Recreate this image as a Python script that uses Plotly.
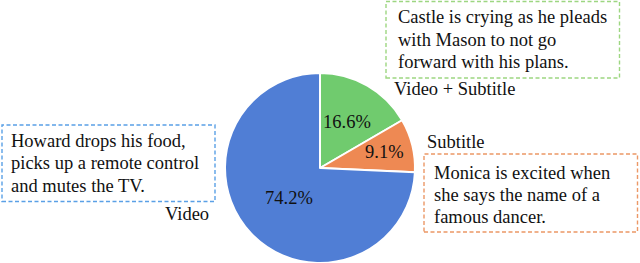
import math
import plotly.graph_objects as go

W, H = 640, 263

# Data
categories = ["Video + Subtitle", "Subtitle", "Video"]
values = [16.6, 9.1, 74.2]
slice_colors = ["#70CB6E", "#EE8953", "#507ED5"]

blue_lines = ["Howard drops his food,", "picks up a remote control", "and mutes the TV."]
green_lines = ["Castle is crying as he pleads", "with Mason to not go", "forward with his plans."]
orange_lines = ["Monica is excited when", "she says the name of a", "famous dancer."]

FONT = "Liberation Serif"
FS = 18.5
TXT = "#111111"

# pie geometry (pixels)
PIE_X0, PIE_X1, PIE_Y0, PIE_Y1 = 225, 415, 73, 263
CX, CY = (PIE_X0 + PIE_X1) / 2, (PIE_Y0 + PIE_Y1) / 2
R = (PIE_X1 - PIE_X0) / 2
LABEL_RADIUS = [0.56, 0.70, 0.45]  # fraction of radius for the percentage labels


def px(x):
    return x / W


def py(y):
    return 1 - y / H


fig = go.Figure()
fig.add_trace(go.Pie(
    labels=categories,
    values=values,
    sort=False,
    direction="clockwise",
    rotation=0,
    marker=dict(colors=slice_colors, line=dict(color="white", width=2)),
    textinfo="none",
    domain=dict(x=[px(PIE_X0), px(PIE_X1)], y=[py(PIE_Y1), py(PIE_Y0)]),
    showlegend=False,
    hoverinfo="label+value",
))

shapes = []
annotations = []


def box(x0, y0, x1, y1, color):
    shapes.append(dict(type="rect", xref="paper", yref="paper",
                       x0=px(x0), x1=px(x1), y0=py(y1), y1=py(y0),
                       line=dict(color=color, width=1.4, dash="4px,2.5px"),
                       fillcolor="rgba(0,0,0,0)"))


def text(t, x, baseline):
    annotations.append(dict(text=t, xref="paper", yref="paper",
                            x=px(x), y=py(baseline - 6), xanchor="left", yanchor="middle",
                            showarrow=False, font=dict(family=FONT, size=FS, color=TXT)))


# percentage labels placed at each slice's mid-angle
total = sum(values)
cum = 0.0
for v, rf in zip(values, LABEL_RADIUS):
    mid = (cum + v / 2) / total * 2 * math.pi
    cum += v
    lx = CX + rf * R * math.sin(mid)
    ly = CY - rf * R * math.cos(mid)
    annotations.append(dict(text=f"{v:.1f}%", xref="paper", yref="paper",
                            x=px(lx), y=py(ly), xanchor="center", yanchor="middle",
                            showarrow=False, font=dict(family=FONT, size=FS, color=TXT)))

box(2, 125, 215, 201.5, "#5AA0E6")
box(386, 1.5, 619.5, 78, "#9DD681")
box(424, 154, 637.5, 232, "#EC9866")

for i, t in enumerate(blue_lines):
    text(t, 9, 146.7 + 22.5 * i)
for i, t in enumerate(green_lines):
    text(t, 396, 22.7 + 22.8 * i)
for i, t in enumerate(orange_lines):
    text(t, 432, 179.3 + 21.7 * i)

text(categories[0], 391.5, 95)
text(categories[1], 425, 148.3)
text(categories[2], 162.5, 220)

fig.update_layout(
    width=W, height=H,
    margin=dict(l=0, r=0, t=0, b=0),
    paper_bgcolor="white", plot_bgcolor="white",
    font=dict(family=FONT),
    shapes=shapes, annotations=annotations,
)

fig.write_html(
    "out.html",
    config={"displayModeBar": False},
    post_script="document.body.style.margin='0';document.body.style.padding='0';document.body.style.overflow='hidden';",
)
